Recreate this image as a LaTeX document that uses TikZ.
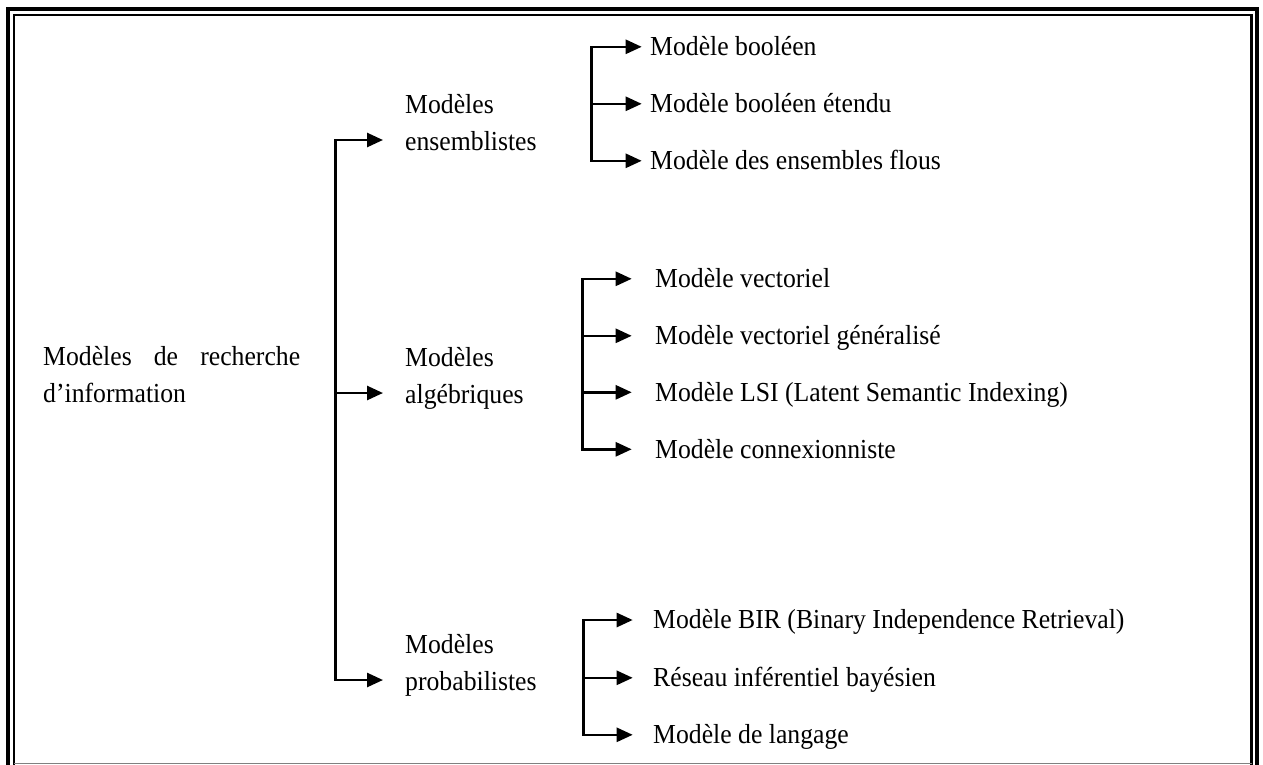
\documentclass[tikz,border=0pt]{standalone}
\usepackage{fontspec}
\setmainfont{Liberation Serif}[FakeStretch=0.935]
\usetikzlibrary{arrows.meta}
\begin{document}
\begin{tikzpicture}[x=1pt,y=-1pt,
  lbl/.style={inner sep=0pt, anchor=base west, font=\fontsize{27.5}{37}\selectfont},
  two/.style={lbl, text width=220pt, align=left},
  conn/.style={line width=2.6pt},
  arr/.style={conn, -{Triangle[length=16pt,width=14pt]}},
  frameout/.style={line width=3.8pt},
  framein/.style={line width=2.4pt},
]
\useasboundingbox (0,0) rectangle (1263,764);

% double frame, cut at the bottom edge
\draw[frameout] (8,790) -- (8,9) -- (1257,9) -- (1257,790);
\draw[framein] (14,790) -- (14,15) -- (1251.5,15) -- (1251.5,790);
\draw[gray, line width=1pt] (14,763) -- (1251.5,763);

% root
\node[two, text width=257pt] (root) at (43,365)
  {\hbox to 257pt{Modèles\hfill de\hfill recherche}\\d’information};

% families
\node[two] (m1) at (405,113) {Modèles\\ensemblistes};
\node[two] (m2) at (405,366) {Modèles\\algébriques};
\node[two] (m3) at (405,653) {Modèles\\probabilistes};

% set-theoretic models
\node[lbl] (l11) at (650,55.5)  {Modèle booléen};
\node[lbl] (l12) at (650,112.5) {Modèle booléen étendu};
\node[lbl] (l13) at (650,169.5) {Modèle des ensembles flous};

% algebraic models
\node[lbl] (l21) at (655,287.5) {Modèle vectoriel};
\node[lbl] (l22) at (655,344.5) {Modèle vectoriel généralisé};
\node[lbl] (l23) at (655,401)   {Modèle LSI (Latent Semantic Indexing)};
\node[lbl] (l24) at (655,458)   {Modèle connexionniste};

% probabilistic models
\node[lbl] (l31) at (653,628.7) {Modèle BIR (Binary Independence Retrieval)};
\node[lbl] (l32) at (653,686.5) {Réseau inférentiel bayésien};
\node[lbl] (l33) at (653,743.5) {Modèle de langage};

% bus lines
\coordinate (bus0) at (335.5,0);
\coordinate (bus1) at (591.7,0);
\coordinate (bus2) at (582.7,0);
\coordinate (bus3) at (583.3,0);

% arrow end points in front of each label
\path ([shift={(-22pt,-27pt)}]m1.base west) coordinate (tm1)
      ([shift={(-22pt,-27pt)}]m2.base west) coordinate (tm2)
      ([shift={(-22pt,-27pt)}]m3.base west) coordinate (tm3);
\path ([shift={(-8.3pt,8.7pt)}]l11.base west) coordinate (t11)
      ([shift={(-8.3pt,8.7pt)}]l12.base west) coordinate (t12)
      ([shift={(-8.3pt,8.7pt)}]l13.base west) coordinate (t13);
\path ([shift={(-23.3pt,8.7pt)}]l21.base west) coordinate (t21)
      ([shift={(-23.3pt,8.7pt)}]l22.base west) coordinate (t22)
      ([shift={(-23.3pt,8.7pt)}]l23.base west) coordinate (t23)
      ([shift={(-23.3pt,8.7pt)}]l24.base west) coordinate (t24);
\path ([shift={(-20.3pt,8.7pt)}]l31.base west) coordinate (t31)
      ([shift={(-20.3pt,8.7pt)}]l32.base west) coordinate (t32)
      ([shift={(-20.3pt,8.7pt)}]l33.base west) coordinate (t33);

% root level connectors
\draw[arr] (tm2 -| bus0) |- (tm1);
\draw[arr] (tm2 -| bus0) |- (tm3);
\draw[arr] (tm2 -| bus0) -- (tm2);

% group connectors
\draw[arr] (t12 -| bus1) |- (t11);
\draw[arr] (t12 -| bus1) |- (t13);
\draw[arr] (t12 -| bus1) -- (t12);

\draw[arr] (t22 -| bus2) |- (t21);
\draw[arr] (t22 -| bus2) |- (t24);
\draw[arr] (t22 -| bus2) -- (t22);
\draw[arr] (t23 -| bus2) -- (t23);

\draw[arr] (t32 -| bus3) |- (t31);
\draw[arr] (t32 -| bus3) |- (t33);
\draw[arr] (t32 -| bus3) -- (t32);
\end{tikzpicture}
\end{document}
